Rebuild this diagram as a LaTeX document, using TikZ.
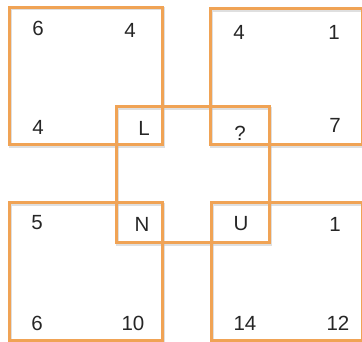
\documentclass[tikz,border=0pt]{standalone}
\usepackage{fontspec}
\setmainfont{Liberation Sans}
\begin{document}
\begin{tikzpicture}[x=1pt,y=-1pt,
  box/.style={draw=boxorange,line width=3pt},
  shade/.style={draw=black!25,line width=3pt,opacity=0.5},
  lbl/.style={font=\fontsize{20.5}{20.5}\selectfont,text=black!85,inner sep=0pt}]
\definecolor{boxorange}{RGB}{240,163,85}
\useasboundingbox (0,0) rectangle (362,342);
\clip (0,0) rectangle (362,342);
% shadows
\foreach \a/\b/\c/\d in {9/7.5/162.5/145, 210/9/362/145, 9/203/162.5/340, 211/203/362/340, 116/107/269/243}
  \draw[shade] (\a+1.2,\b+1.5) rectangle (\c+1.2,\d+1.5);
% squares
\draw[box] (9,7.5) rectangle (162.5,145);
\draw[box] (210,9) rectangle (362,145);
\draw[box] (9,203) rectangle (162.5,340);
\draw[box] (211,203) rectangle (362,340);
\draw[box] (116,107) rectangle (269,243);
% labels top-left
\node[lbl] (a1) at (38,28) {6};
\node[lbl] (a2) at (130,30) {4};
\node[lbl] (a3) at (38,127) {4};
\node[lbl] (a4) at (144,128) {L};
% top-right
\node[lbl] (b1) at (239,32) {4};
\node[lbl] (b2) at (334,32) {1};
\node[lbl] (b3) at (240,133) {?};
\node[lbl] (b4) at (335,125) {7};
% bottom-left
\node[lbl] (c1) at (37,223) {5};
\node[lbl] (c2) at (142,224) {N};
\node[lbl] (c3) at (37,323) {6};
\node[lbl] (c4) at (133,323) {10};
% bottom-right
\node[lbl] (d1) at (241,224) {U};
\node[lbl] (d2) at (335,224) {1};
\node[lbl] (d3) at (245,323) {14};
\node[lbl] (d4) at (338,323) {12};
\end{tikzpicture}
\end{document}
